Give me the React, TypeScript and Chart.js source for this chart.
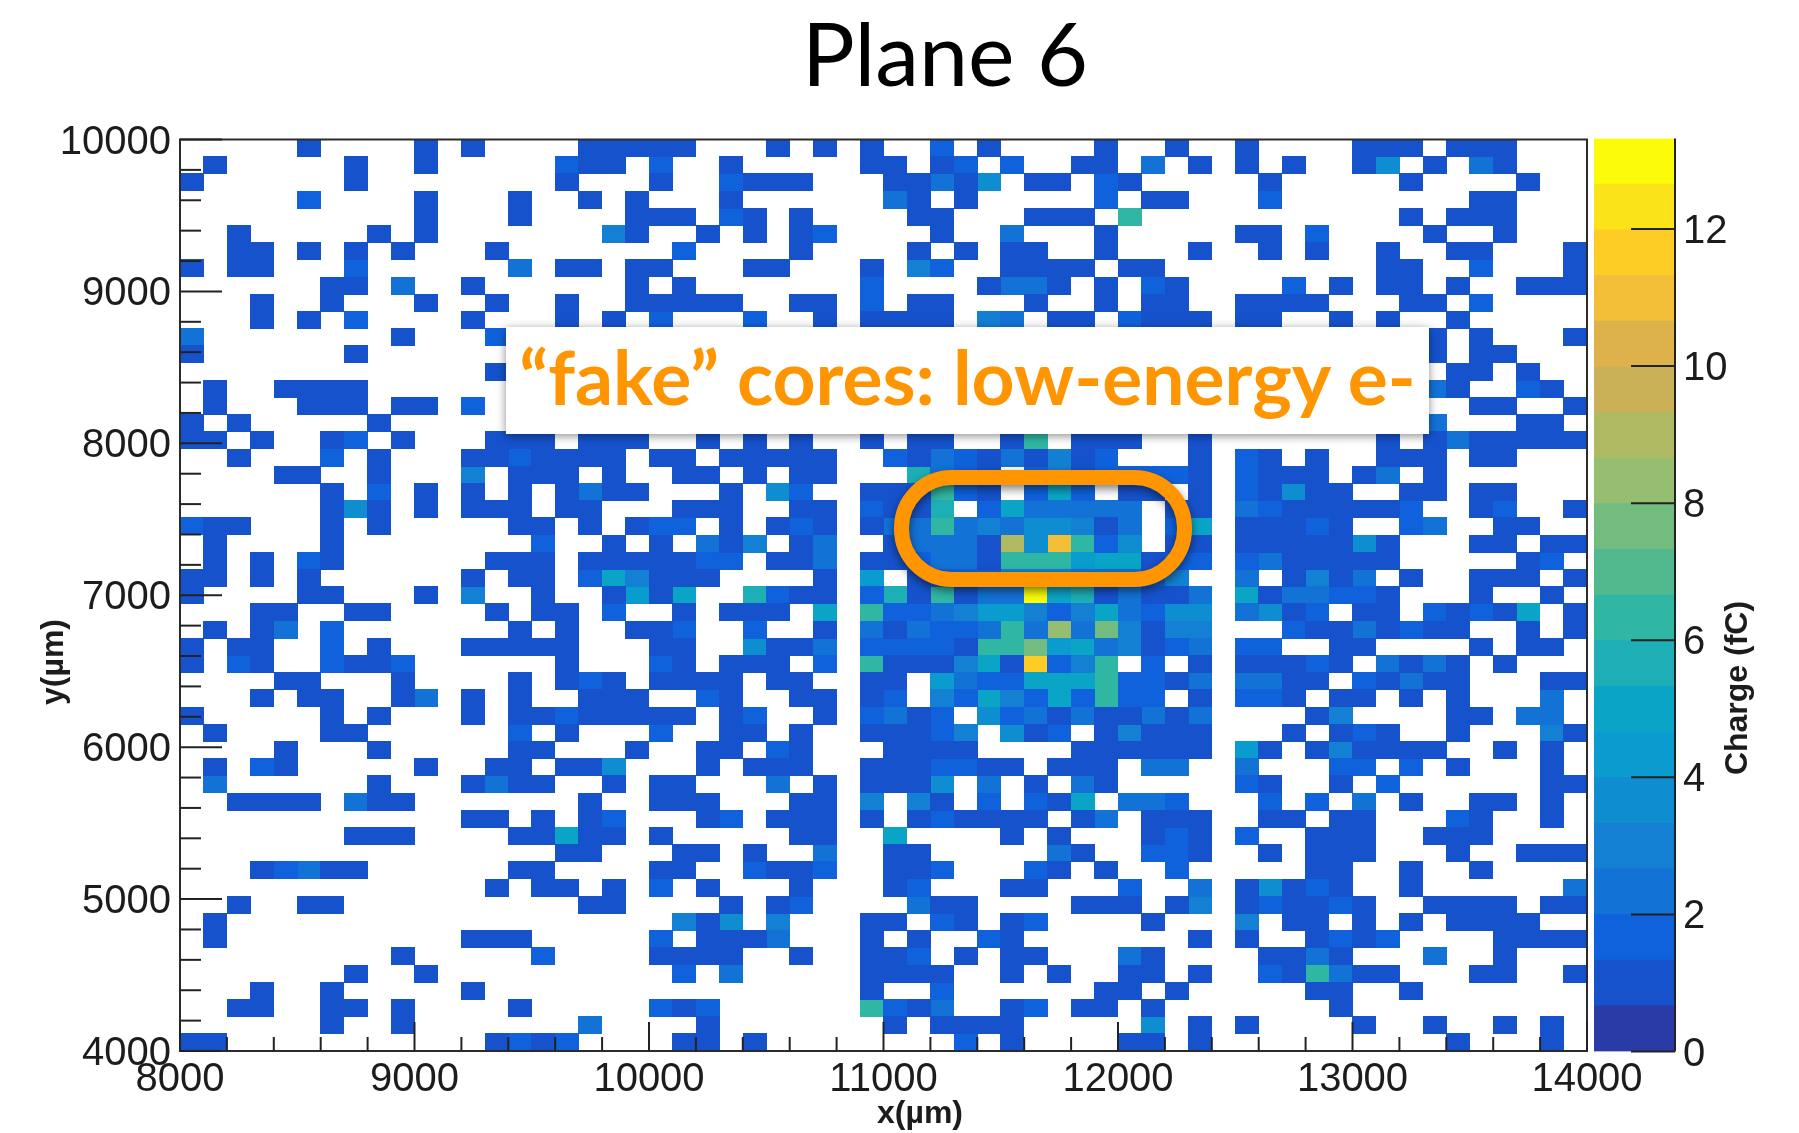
import React, { useEffect, useRef } from "react";
import { Chart, registerables } from "chart.js";

Chart.register(...registerables);

// Charge map: one string per y-bin (top to bottom), one character per x-bin.
// "." = empty bin, 1-9,a-j = contour level index.
const chargeRows: string[] = [
  ".....1....1.1....111 11...1.1.1..2.1....1 ..1..1....111.111...",
  ".1.....1..1.....211. 2..1.....11.12.2..11 .3.1.1.1..15.1.31...",
  "1......1........1... 1..2111...11315.11.2 1.....1.....1....1..",
  ".....2....1...1..1.1 ...1......31.1.....2 .11...2........11...",
  "..........1...1....1 11.21.1....11...111. 9...........1.111...",
  "..1.....1.1.......41 ..1.1.12....1..3...1 .....11.2....1..1...",
  "..11.1.1.1...1...... .2....1....1.1.11..1 ...1..1.1..1..11...1",
  "1.11...2......3.11.1 1...11...1.42..1111. 11.........11..2...1",
  "......11.3..1......1 .1.......2....1331.1 .21....2.1.11.1..111",
  "...1..1...1..1..1..1 1111..11.2.11...1..1 .11..1111...11.2....",
  "...1.1.2....1...1.1. 2...2..1.1111.43.11. 2111.11..1.1..1.....",
  "3........1...2...... .................... .............1.1...1",
  "1......1............ .................... .............1.11...",
  ".............1...... .................... ..............11.1..",
  ".1..1111............ .................... .............31..21.",
  ".1...111.11.2....... .................... ...............11..1",
  "1.1.....1........... .................... .............3...11.",
  "11.1..12.1...111.111 ..1.1.1..1.11..19.11 1..1.......1.1311111",
  "..1...2.1...1121111. 11.11111..2132131412 ...1.21.1..111.11...",
  "....11..1...4.111.1. .11.1.11...8321.2412 2221.2111.13.1......",
  "......1.2.1.1.1.1311 ...1.52..111921.272. 11.1.21511..11.11...",
  "......151.1.111.11.. .111..11.2118.273333 3.11.32111112..12..1",
  "211...1.1.....11.1.1 22.1.121.13393435541 3.27.11121..23..11..",
  ".1....1........2..1. 1.314.13..13331d5g92 5.11.1111151...11.11",
  ".1.1.21......111.111 1122.113.11233199967 7122.2311111.....12.",
  "11.1.1......1.11.274 111....1.6.122244433 324..3.1413.1..111.1",
  "1....11...1.4..1..16 17..8211.2819133j781 3113.7133221...1..1.",
  "...11..11....1.11.2. .1.111.7.92234664247 3255.3512.11.21217.1",
  ".1.13.2.......1.1..1 12..2..1.31322393c3b 4144...21131211..1.1",
  "1.11..2.1...11111... 11..5113.2222199b673 4123.22..11....1.11.",
  "1.21..2112......1... 21.111.2.9111471h249 .2.1.11121.3131.1...",
  "....11...1....1.121. 1111.11..11.63227779 2213.3311.21311...11",
  "...1.11..13.1.1..111 ..21..11.12.42742729 22.1.221.11.1.1...3.",
  "1.....1.1...1.112111 11.12..1.2312.523131 1313....14....11.33.",
  ".1....11......2.1... 2..11.1..11124.512.1 4111...1.121..1...41",
  "....1...1.....11...1 ..11.21...1111....11 1111.61.141111..1.1.",
  ".1.21.....1..11.115. ..1.111..1112211.111 .33..3...22.2.1...1.",
  ".3......1...1311..1. 11...3.1.1115.3.1.31 .....21..1.2......11",
  "..1111.311.......1.. 111...11.4.41.2.217. 332...2.2.3.1..11.1.",
  "............11.1.12. ..12.111.1.121111.13 .111..11.11...21..1.",
  ".......111....11711. 1.....11..7....1.1.. .121.2..111..111....",
  "................11.. .11.1..3..11.....31. .221..1.111...1..111",
  "...12311......11.... 11..2112..112...21.1 ..2.....11..1..1....",
  ".............1.11.1. 2.1...1...12...11... 2..3.15121..1......3",
  "..1..11..........11. ...1.12....311....11 1.14.121121..1111.11",
  ".1.................. .415.4...11.21.12... .1...4.11.1.1.1111..",
  ".1..........111..... 2.1113...1.1..21.... ...1.1..1212....1111",
  ".........1.....2.... 1111..1..112.1.11... 31....1131...3..1...",
  ".......1..1......... .2.3.....1111..1.1.. 11.1..219311...11..1",
  "...1..1.....1....... .........1..2......1 1.1.....11..1.......",
  "..11..11.1....1..... 212......9213..12.11 .1.......1..........",
  "......1..1.......3.. ..1.......1.1111.... .5.1.1....1..1..1.1.",
  "11...........1212... .11.1........2.1.... 11.1..........1...1.",
];

const levelCodes = "0123456789abcdefghij";
const levelColors: string[] = [
  "#2a3aa6", "#1652cc", "#0f62dc", "#1272d6", "#1380d4",
  "#0e8ed0", "#0a9ccf", "#0aa5c6", "#1eaeb6", "#30b7a3",
  "#52b98e", "#73bc7f", "#95be70", "#b0ba63", "#cab158",
  "#deb24a", "#f3be38", "#fdcd26", "#fbe31a", "#fbfb0a",
];
const chargeMax = 13.32;
const xRange = [8000, 14000];
const yRange = [4000, 10000];
const xMajorTicks = [8000, 9000, 10000, 11000, 12000, 13000, 14000];
const yMajorTicks = [4000, 5000, 6000, 7000, 8000, 9000, 10000];

const TEXT = "#1c1c1c";
const AXIS = "#2b2b2b";
const TICK_FONT = { family: "'Liberation Sans'", size: 40 };

function cellSprite(color: string) {
  const c = document.createElement("canvas");
  c.width = 24;
  c.height = 18;
  const g = c.getContext("2d")!;
  g.fillStyle = color;
  g.fillRect(0, 0, 24, 18);
  return c;
}

function buildDatasets() {
  const rows = chargeRows.map((r) => r.replace(/ /g, ""));
  const nx = 60;
  const ny = rows.length;
  const dx = (xRange[1] - xRange[0]) / nx;
  const dy = (yRange[1] - yRange[0]) / ny;
  return levelColors.map((color, level) => {
    const data: { x: number; y: number }[] = [];
    rows.forEach((row, r) => {
      for (let c = 0; c < nx; c++) {
        if (row[c] === levelCodes[level]) {
          data.push({ x: xRange[0] + (c + 0.5) * dx, y: yRange[1] - (r + 0.5) * dy });
        }
      }
    });
    return {
      label: `${((level * chargeMax) / 20).toFixed(2)} fC`,
      data,
      pointStyle: cellSprite(color),
      pointRadius: 10,
      backgroundColor: color,
      borderWidth: 0,
      showLine: false,
    };
  });
}

const innerFrame = {
  id: "innerFrame",
  afterDraw(chart: any) {
    const { ctx, chartArea: a, scales } = chart;
    ctx.save();
    ctx.strokeStyle = AXIS;
    ctx.lineWidth = 2;
    ctx.strokeRect(a.left, a.top, a.right - a.left, a.bottom - a.top);
    ctx.strokeStyle = "#222";
    scales.x.ticks.forEach((t: any) => {
      const px = scales.x.getPixelForValue(t.value);
      const len = t.value % 1000 === 0 ? 29 : 14;
      ctx.beginPath();
      ctx.moveTo(px, a.bottom);
      ctx.lineTo(px, a.bottom - len);
      ctx.stroke();
    });
    scales.y.ticks.forEach((t: any) => {
      const py = scales.y.getPixelForValue(t.value);
      const len = t.value % 1000 === 0 ? 42 : 21;
      ctx.beginPath();
      ctx.moveTo(a.left, py);
      ctx.lineTo(a.left + len, py);
      ctx.stroke();
    });
    ctx.fillStyle = TEXT;
    ctx.font = "bold 32px 'Liberation Sans'";
    ctx.textAlign = "center";
    ctx.textBaseline = "middle";
    ctx.fillText("x(µm)", 920, 1114);
    ctx.translate(54, 662);
    ctx.rotate(-Math.PI / 2);
    ctx.fillText("y(µm)", 0, 0);
    ctx.restore();
  },
};

const barFrame = {
  id: "barFrame",
  afterDraw(chart: any) {
    const { ctx, chartArea: a, scales } = chart;
    ctx.save();
    ctx.strokeStyle = "#222";
    ctx.lineWidth = 2;
    ctx.beginPath();
    ctx.moveTo(a.right, a.top);
    ctx.lineTo(a.right, a.bottom);
    ctx.stroke();
    scales.y.ticks.forEach((t: any) => {
      const py = scales.y.getPixelForValue(t.value);
      ctx.beginPath();
      ctx.moveTo(a.right, py);
      ctx.lineTo(a.right - 44, py);
      ctx.stroke();
    });
    ctx.fillStyle = TEXT;
    ctx.font = "bold 32px 'Liberation Sans'";
    ctx.textAlign = "center";
    ctx.textBaseline = "middle";
    ctx.translate(144, 688);
    ctx.rotate(-Math.PI / 2);
    ctx.fillText("Charge (fC)", 0, 0);
    ctx.restore();
  },
};

export default function App() {
  const mapRef = useRef<HTMLCanvasElement>(null);
  const barRef = useRef<HTMLCanvasElement>(null);

  useEffect(() => {
    const map = new Chart(mapRef.current!, {
      type: "scatter",
      data: { datasets: buildDatasets() as any },
      plugins: [innerFrame],
      options: {
        animation: false,
        responsive: false,
        events: [],
        layout: { padding: { top: 139.5, right: 212, left: 0, bottom: 0 } },
        plugins: { legend: { display: false }, tooltip: { enabled: false } },
        scales: {
          x: {
            type: "linear",
            min: xRange[0],
            max: xRange[1],
            grid: { display: false },
            border: { display: false },
            afterFit(s: any) {
              s.height = 82;
              s.paddingLeft = 0;
              s.paddingRight = 0;
            },
            ticks: {
              stepSize: 200,
              autoSkip: false,
              maxRotation: 0,
              padding: -3,
              color: TEXT,
              font: TICK_FONT,
              callback: (v: any) => (xMajorTicks.includes(Number(v)) ? String(v) : ""),
            },
          },
          y: {
            type: "linear",
            min: yRange[0],
            max: yRange[1],
            grid: { display: false },
            border: { display: false },
            afterFit(s: any) {
              s.width = 180;
              s.paddingTop = 0;
              s.paddingBottom = 0;
            },
            ticks: {
              stepSize: 200,
              autoSkip: false,
              padding: 1,
              labelOffset: 3,
              color: TEXT,
              font: TICK_FONT,
              callback: (v: any) => (yMajorTicks.includes(Number(v)) ? String(v) : ""),
            },
          },
        },
      },
    } as any);

    const bar = new Chart(barRef.current!, {
      type: "bar",
      data: {
        labels: ["Charge (fC)"],
        datasets: levelColors.map((color, i) => ({
          label: `level ${i}`,
          data: [[(i * chargeMax) / 20, ((i + 1) * chargeMax) / 20]],
          backgroundColor: color,
          borderWidth: 0,
          barPercentage: 1,
          categoryPercentage: 1,
        })) as any,
      },
      plugins: [barFrame],
      options: {
        animation: false,
        responsive: false,
        events: [],
        layout: { padding: { top: 138.5, bottom: 81.5, left: 0, right: 0 } },
        plugins: { legend: { display: false }, tooltip: { enabled: false } },
        scales: {
          x: { display: false, stacked: true },
          y: {
            position: "right",
            type: "linear",
            min: 0,
            max: chargeMax,
            grid: { display: false },
            border: { display: false },
            afterFit(s: any) {
              s.width = 124;
              s.paddingTop = 0;
              s.paddingBottom = 0;
            },
            ticks: {
              stepSize: 2,
              includeBounds: false,
              padding: 0,
              labelOffset: 3,
              color: TEXT,
              font: TICK_FONT,
            },
          },
        },
      },
    } as any);

    return () => {
      map.destroy();
      bar.destroy();
    };
  }, []);

  return (
    <div style={{ position: "absolute", left: 0, top: 0, width: 1799, height: 1133, background: "#fff", overflow: "hidden" }}>
      <canvas
        ref={mapRef}
        width={1799}
        height={1133}
        style={{ position: "absolute", left: 0, top: 0, filter: "blur(0.6px)" }}
      />
      <canvas
        ref={barRef}
        width={205}
        height={1133}
        style={{ position: "absolute", left: 1594, top: 0, filter: "blur(0.6px)" }}
      />
      <div
        style={{
          position: "absolute", left: 740, top: 0, width: 410, height: 110, textAlign: "center",
          fontFamily: "Lato", fontWeight: 400, fontSize: 88, lineHeight: "104px", color: "#000",
        }}
      >
        Plane 6
      </div>
      <div
        style={{
          position: "absolute", left: 506, top: 327, width: 923, height: 107, background: "#fff",
          boxShadow: "0 2px 9px rgba(0,0,0,0.45)", textAlign: "center",
          fontFamily: "Lato", fontWeight: 700, fontSize: 75, lineHeight: "98px",
          color: "#ff9500", whiteSpace: "pre",
        }}
      >
        “fake” cores: low-energy e-
      </div>
      <div
        style={{
          position: "absolute", left: 894, top: 470, width: 298, height: 117, boxSizing: "border-box",
          border: "15.5px solid #ff9500", borderRadius: 58, filter: "drop-shadow(0 4px 5px rgba(0,0,0,0.5))",
        }}
      />
    </div>
  );
}
